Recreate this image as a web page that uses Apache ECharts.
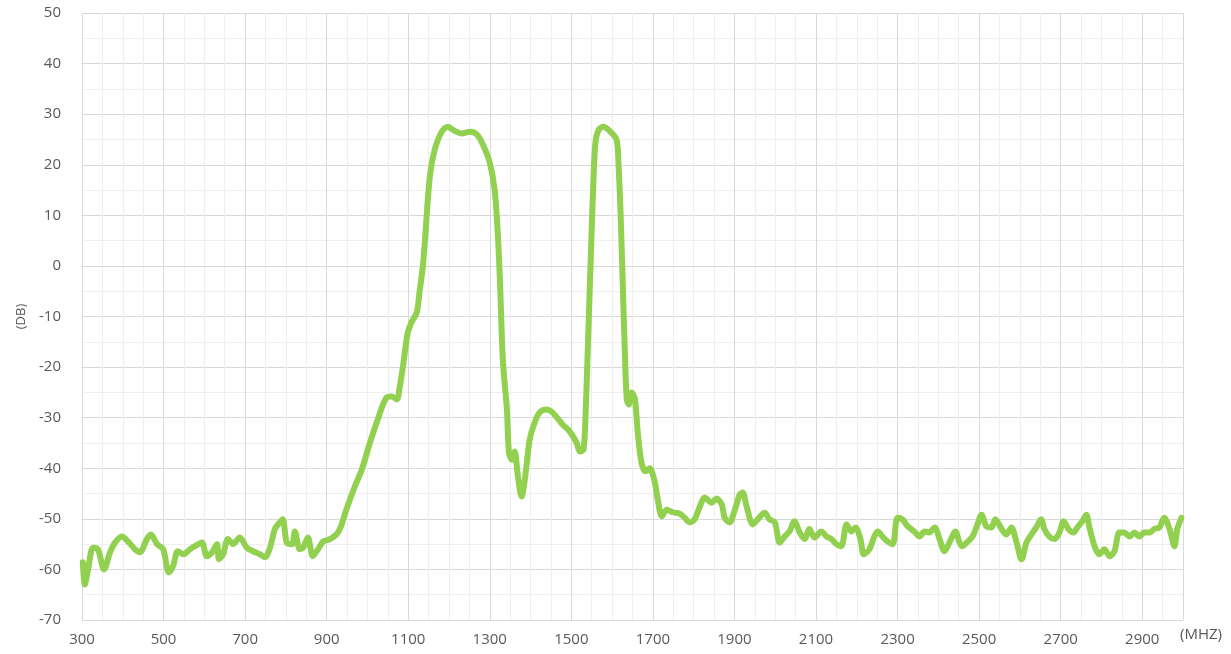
<!DOCTYPE html>
<html>
<head>
<meta charset="utf-8">
<script src="https://cdn.jsdelivr.net/npm/echarts@6/dist/echarts.min.js"></script>
<style>
  html, body { margin: 0; padding: 0; background: #ffffff; }
  #chart { width: 1231px; height: 654px; }
</style>
</head>
<body>
<div id="chart"></div>
<script>
// frequency (MHz) and level (dB)
var freqs = [
  302, 307, 315, 327, 339, 354, 369, 381, 398, 413, 430, 442, 459, 469, 484, 499,
  513, 523, 535, 548, 565, 577, 594, 606, 619, 631, 636, 646, 658, 670, 687, 704,
  719, 736, 749, 761, 773, 781, 792, 802, 815, 822, 834, 842, 854, 866, 879, 891,
  908, 925, 935, 949, 969, 986, 1006, 1025, 1047, 1060, 1072, 1079, 1087, 1099,
  1109, 1121, 1128, 1136, 1141, 1153, 1165, 1182, 1197, 1214, 1231, 1251, 1268,
  1283, 1300, 1312, 1320, 1325, 1332, 1342, 1347, 1354, 1361, 1369, 1378, 1386,
  1398, 1410, 1422, 1439, 1454, 1479, 1496, 1513, 1521, 1530, 1535, 1539, 1547,
  1554, 1559, 1567, 1579, 1596, 1611, 1616, 1621, 1626, 1631, 1636, 1641, 1648,
  1656, 1663, 1672, 1682, 1692, 1704, 1712, 1722, 1734, 1749, 1766, 1778, 1790,
  1802, 1815, 1827, 1844, 1856, 1869, 1876, 1888, 1901, 1913, 1920, 1930, 1945,
  1957, 1974, 1986, 1999, 2011, 2023, 2035, 2047, 2060, 2072, 2084, 2096, 2113,
  2126, 2138, 2150, 2162, 2175, 2187, 2197, 2209, 2217, 2231, 2243, 2251, 2263,
  2276, 2288, 2300, 2312, 2324, 2341, 2354, 2366, 2378, 2391, 2403, 2415, 2427,
  2442, 2452, 2459, 2472, 2484, 2496, 2506, 2518, 2530, 2540, 2555, 2567, 2579,
  2592, 2604, 2616, 2628, 2640, 2652, 2660, 2672, 2685, 2697, 2707, 2719, 2731,
  2741, 2753, 2763, 2770, 2783, 2795, 2807, 2820, 2832, 2844, 2856, 2869, 2881,
  2893, 2905, 2918, 2930, 2942, 2954, 2967, 2979, 2986, 2996
]
var dbValues = [
  -58.6, -63, -60, -55.7, -56, -60, -56.6, -54.7, -53.5, -54.5, -56, -56.6, -54, -53.1, -55, -56,
  -60.6, -59.4, -56.4, -57, -56, -55.4, -54.7, -57.4, -56.6, -55, -58, -57, -54, -55, -53.7, -55.7,
  -56.4, -57, -57.6, -55.7, -52, -51.1, -50.1, -54.7, -55, -52.5, -56, -55.7, -53.7, -57.4, -56, -54.5,
  -54, -53, -51.5, -48, -43.6, -40.3, -35, -30.4, -26, -25.8, -26.4, -24, -19.9, -13.2,
  -11, -9.2, -5, 0, 5, 17.7, 23, 26.5, 27.5, 26.7, 26.2, 26.5, 26,
  24, 20.4, 15, 5.8, -3, -18.5, -28.4, -36.9, -38.3, -36.7, -41.6, -45.6, -42.2,
  -34.3, -31, -29, -28.4, -29, -31.4, -32.7, -35, -36.7, -36.3, -29, -19.9, 0,
  16.5, 24.3, 26.9, 27.5, 26.5, 24.9, 19.6, 9.8, -3.3, -16.5, -26.4, -27.4, -25,
  -26.4, -33, -38.9, -40.6, -40, -42.5, -46.2, -49.5, -48.2, -48.7, -49, -49.8, -50.7,
  -50.1, -47.6, -45.8, -46.8, -46, -47.2, -49.8, -50.7, -48.2, -45.2, -44.8, -47.6, -51.1,
  -50.1, -48.8, -50.1, -50.7, -54.7, -53.5, -52.5, -50.5, -52.7, -54, -52, -53.7, -52.5,
  -53.5, -54, -55, -55.4, -51.1, -52.5, -51.7, -54, -57, -56, -53.5, -52.5, -53.5,
  -54.5, -55, -49.8, -50.1, -51.4, -52.5, -53.5, -52.5, -52.7, -51.7, -54, -56.4, -54.7,
  -52.5, -54.7, -55.4, -54.5, -53.5, -51.1, -49.2, -51.5, -51.7, -50.1, -52, -53.1, -51.7,
  -54.7, -58, -54.7, -53.1, -51.7, -50.1, -52, -53.5, -54, -52.7, -50.5, -52, -52.7,
  -51.7, -50.5, -49.2, -51.5, -55.4, -57, -56, -57.4, -56.4, -52.7, -52.7, -53.5, -52.7,
  -53.5, -52.7, -52.7, -52, -51.7, -49.8, -52, -55.4, -52, -49.8
]
var xMin = 300, xMax = 3000, xStep = 200
var yMin = -70, yMax = 50, yStep = 10

var chart = echarts.init(document.getElementById('chart'))

var labelStyle = {
  color: '#595959',
  fontSize: 15,
  fontFamily: 'Open Sans'
}

var option = {
  backgroundColor: '#ffffff',
  animation: false,
  grid: { left: 82, right: 48, top: 13, bottom: 34 },
  xAxis: {
    type: 'value',
    min: xMin,
    max: xMax,
    interval: xStep,
    axisLine: { show: true, lineStyle: { color: '#d9d9d9', width: 1 } },
    axisTick: { show: false },
    axisLabel: Object.assign({}, labelStyle, {
      margin: 12,
      showMaxLabel: false,
      formatter: function (v) { return String(v) }
    }),
    splitLine: { show: true, lineStyle: { color: '#d9d9d9', width: 1 } },
    minorTick: { show: false, splitNumber: 4 },
    minorSplitLine: { show: true, lineStyle: { color: '#efefef', width: 1 } }
  },
  yAxis: {
    type: 'value',
    min: yMin,
    max: yMax,
    interval: yStep,
    name: '(DB)',
    nameLocation: 'middle',
    nameRotate: 90,
    nameGap: 54,
    nameTextStyle: Object.assign({}, labelStyle, { fontSize: 13 }),
    axisLine: { show: false },
    axisTick: { show: false },
    axisLabel: Object.assign({}, labelStyle, { margin: 21 }),
    splitLine: { show: true, lineStyle: { color: '#d9d9d9', width: 1 } },
    minorTick: { show: false, splitNumber: 2 },
    minorSplitLine: { show: true, lineStyle: { color: '#efefef', width: 1 } }
  },
  graphic: [
    {
      type: 'text',
      left: 1180,
      top: 627,
      style: { text: '(MHZ)', fill: '#595959', fontSize: 15, fontFamily: 'Open Sans' }
    }
  ],
  series: [
    {
      type: 'line',
      data: freqs.map(function (f, i) { return [f, dbValues[i]] }),
      showSymbol: false,
      smooth: 0.3,
      lineStyle: { color: '#92d050', width: 6, join: 'round', cap: 'round' }
    }
  ]
}

chart.setOption(option)
</script>
</body>
</html>
